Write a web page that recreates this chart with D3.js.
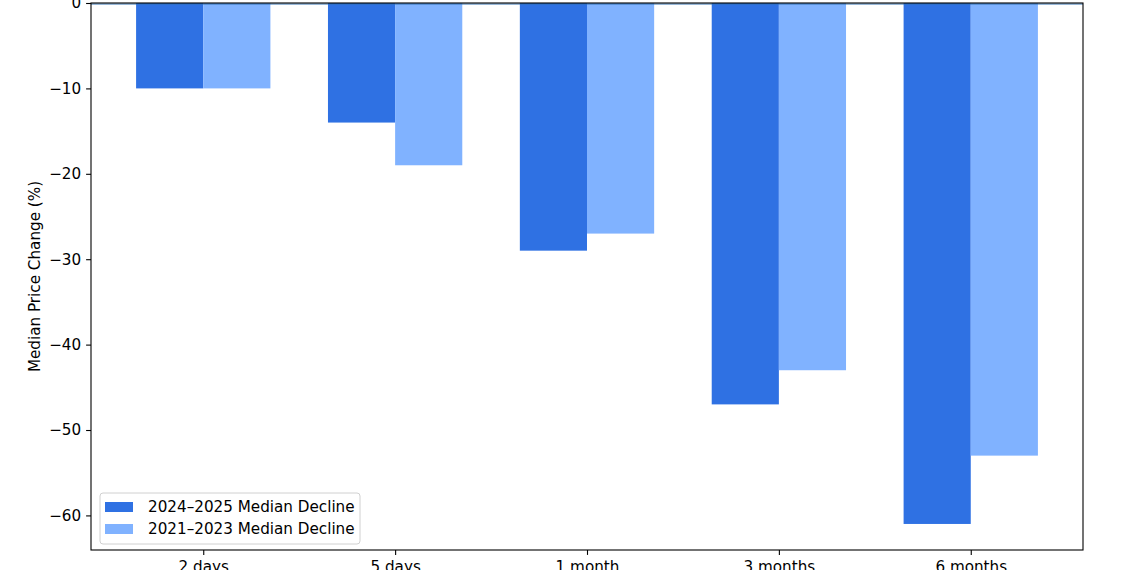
<!DOCTYPE html>
<html>
<head>
<meta charset="utf-8">
<script src="https://cdn.jsdelivr.net/npm/d3@7"></script>
<style>
html,body{margin:0;padding:0;background:#fff;overflow:hidden;}
svg{display:block;font-family:"DejaVu Sans",sans-serif;}
</style>
</head>
<body>
<svg id="chart" width="1140" height="570"></svg>
<script>
const categories = ["2 days", "5 days", "1 month", "3 months", "6 months"];
const seriesNames = ["2024–2025 Median Decline", "2021–2023 Median Decline"];
const recent = [-10, -14, -29, -47, -61];
const earlier = [-10, -19, -27, -43, -53];
const yTicks = [0, -10, -20, -30, -40, -50, -60];
const colors = ["#2f71e3", "#80b2ff"];

const FS = 15.2;
const svg = d3.select("#chart");
const L = 91, R = 1083, T = 3, B = 550;
const barW = 0.35;

const x = d3.scaleLinear().domain([-0.35 - 0.235, 4.35 + 0.235]).range([L, R]);
const yMin = -61 - 0.05 * 61;
const y = d3.scaleLinear().domain([yMin, 0]).range([B, T]);

const series = [recent, earlier];
series.forEach((vals, s) => {
  svg.append("g").selectAll("rect").data(vals).join("rect")
    .attr("x", (d, i) => x(i - barW + s * barW))
    .attr("width", (d, i) => x(i + barW) - x(i))
    .attr("y", y(0))
    .attr("height", d => y(d) - y(0))
    .attr("fill", colors[s]);
});

// zero line
svg.append("line").attr("x1", L).attr("x2", R).attr("y1", y(0) + 1).attr("y2", y(0) + 1)
  .attr("stroke", "#2e6fb0").attr("stroke-width", 1.2);

// axes
const yAxis = d3.axisLeft(y).tickValues(yTicks).tickSize(4.9).tickPadding(4.9)
  .tickFormat(d => d < 0 ? "\u2212" + Math.abs(d) : d);
const gy = svg.append("g").attr("transform", `translate(${L},0)`).call(yAxis);
gy.select(".domain").remove();
gy.selectAll("line").attr("stroke", "#000").attr("stroke-width", 1.1);
gy.selectAll("text").attr("font-size", FS).attr("fill", "#000").attr("font-family", "DejaVu Sans");

const xAxis = d3.axisBottom(x).tickValues(d3.range(categories.length)).tickSize(4.9).tickPadding(6.5)
  .tickFormat(i => categories[i]);
const gx = svg.append("g").attr("transform", `translate(0,${B})`).call(xAxis);
gx.select(".domain").remove();
gx.selectAll("line").attr("stroke", "#000").attr("stroke-width", 1.1);
gx.selectAll("text").attr("font-size", FS).attr("fill", "#000").attr("font-family", "DejaVu Sans");

// spines
svg.append("rect").attr("x", L).attr("y", T).attr("width", R - L).attr("height", B - T)
  .attr("fill", "none").attr("stroke", "#000").attr("stroke-width", 1.1);

// y label
svg.append("text").attr("transform", `translate(40,${(T + B) / 2}) rotate(-90)`)
  .attr("text-anchor", "middle").attr("font-size", FS).text("Median Price Change (%)");

// legend
const lg = svg.append("g");
lg.append("rect").attr("x", 100).attr("y", 493).attr("width", 260).attr("height", 51)
  .attr("rx", 3).attr("fill", "#fff").attr("fill-opacity", 0.8)
  .attr("stroke", "#d0d0d0").attr("stroke-width", 1);
seriesNames.forEach((n, i) => {
  const cy = 507 + i * 22;
  lg.append("rect").attr("x", 105).attr("y", cy - 5).attr("width", 28).attr("height", 10).attr("fill", colors[i]);
  lg.append("text").attr("x", 148).attr("y", cy).attr("dy", "0.36em").attr("font-size", FS).text(n);
});
</script>
</body>
</html>
